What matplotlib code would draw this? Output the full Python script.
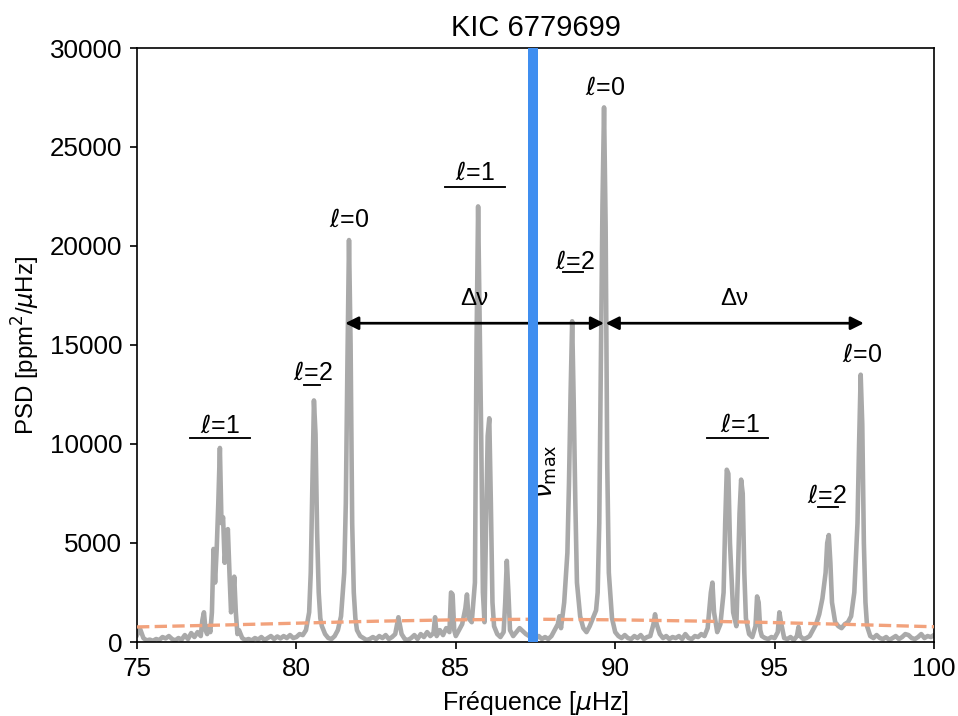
import numpy as np
import matplotlib
matplotlib.use("Agg")
import matplotlib.pyplot as plt

plt.rcParams['font.family'] = ['Liberation Sans', 'DejaVu Sans']

# Spectre (frequence en muHz, PSD en ppm^2/muHz)
freq = [75.0, 75.1, 75.2, 75.3, 75.4, 75.5, 75.6, 75.7, 75.8, 75.9,
        76.0, 76.1, 76.2, 76.3, 76.4, 76.5, 76.6, 76.7, 76.8, 76.9,
        77.0, 77.05, 77.1, 77.15, 77.2, 77.25, 77.3, 77.35, 77.4, 77.45,
        77.5, 77.55, 77.6, 77.65, 77.7, 77.75, 77.8, 77.85, 77.9, 77.95,
        78.0, 78.05, 78.1, 78.15, 78.2, 78.3, 78.4, 78.5, 78.6, 78.7,
        78.8, 78.9, 79.0, 79.1, 79.2, 79.3, 79.4, 79.5, 79.6, 79.7,
        79.8, 79.9, 80.0, 80.1, 80.2, 80.3, 80.4, 80.45, 80.5, 80.55,
        80.6, 80.65, 80.7, 80.75, 80.8, 80.9, 81.0, 81.1, 81.2, 81.3,
        81.4, 81.5, 81.55, 81.6, 81.65, 81.7, 81.75, 81.8, 81.85, 81.9,
        82.0, 82.1, 82.2, 82.3, 82.4, 82.5, 82.6, 82.7, 82.8, 82.9,
        83.0, 83.1, 83.2, 83.3, 83.4, 83.5, 83.6, 83.7, 83.8, 83.9,
        84.0, 84.1, 84.2, 84.3, 84.35, 84.4, 84.5, 84.6, 84.7, 84.8,
        84.85, 84.9, 84.95, 85.0, 85.1, 85.2, 85.3, 85.35, 85.4, 85.5,
        85.6, 85.65, 85.7, 85.75, 85.8, 85.85, 85.9, 85.95, 86.0, 86.05,
        86.1, 86.15, 86.2, 86.3, 86.4, 86.5, 86.55, 86.6, 86.65, 86.7,
        86.8, 86.9, 87.0, 87.1, 87.2, 87.3, 87.4, 87.5, 87.6, 87.7,
        87.8, 87.9, 88.0, 88.1, 88.2, 88.25, 88.3, 88.4, 88.5, 88.55,
        88.6, 88.65, 88.7, 88.75, 88.8, 88.9, 89.0, 89.1, 89.2, 89.3,
        89.4, 89.45, 89.5, 89.55, 89.6, 89.65, 89.7, 89.75, 89.8, 89.9,
        90.0, 90.1, 90.2, 90.3, 90.4, 90.5, 90.6, 90.7, 90.8, 90.9,
        91.0, 91.1, 91.2, 91.25, 91.3, 91.4, 91.5, 91.6, 91.7, 91.8,
        91.9, 92.0, 92.1, 92.2, 92.3, 92.4, 92.5, 92.6, 92.7, 92.8,
        92.9, 93.0, 93.05, 93.1, 93.2, 93.3, 93.4, 93.45, 93.5, 93.55,
        93.6, 93.7, 93.8, 93.85, 93.9, 93.95, 94.0, 94.05, 94.1, 94.2,
        94.3, 94.4, 94.45, 94.5, 94.55, 94.6, 94.7, 94.8, 94.9, 95.0,
        95.1, 95.15, 95.2, 95.3, 95.4, 95.5, 95.6, 95.7, 95.75, 95.8,
        95.9, 96.0, 96.1, 96.2, 96.3, 96.4, 96.5, 96.6, 96.65, 96.7,
        96.75, 96.8, 96.9, 97.0, 97.1, 97.2, 97.3, 97.4, 97.5, 97.6,
        97.65, 97.7, 97.75, 97.8, 97.85, 97.9, 98.0, 98.1, 98.2, 98.3,
        98.4, 98.5, 98.6, 98.7, 98.8, 98.9, 99.0, 99.1, 99.2, 99.3,
        99.4, 99.5, 99.6, 99.7, 99.8, 99.9, 100.0]
psd = [350, 650, 200, 80, 120, 60, 150, 100, 250, 180,
       300, 150, 80, 200, 120, 350, 150, 450, 250, 500,
       300, 1100, 1500, 600, 400, 800, 500, 1500, 4700, 3000,
       4700, 7000, 9800, 6000, 6300, 4000, 5000, 5700, 3500, 1500,
       2000, 3300, 1500, 400, 600, 200, 100, 150, 80, 200,
       120, 250, 100, 200, 300, 150, 280, 180, 300, 200,
       350, 200, 250, 400, 350, 600, 1500, 3500, 8000, 12200,
       10500, 5500, 2500, 1200, 800, 400, 200, 150, 300, 600,
       1300, 3500, 7000, 14000, 20300, 15000, 6000, 2500, 1200, 600,
       300, 200, 100, 150, 250, 150, 300, 200, 350, 150,
       250, 400, 1250, 400, 150, 100, 200, 350, 150, 400,
       250, 500, 300, 450, 1250, 300, 600, 350, 700, 500,
       2500, 2400, 600, 300, 600, 900, 1700, 2400, 1200, 1000,
       3000, 15000, 22000, 16000, 10000, 2500, 1000, 6000, 10400, 11300,
       7000, 2000, 800, 400, 250, 500, 2000, 4100, 2500, 600,
       300, 500, 700, 550, 400, 300, 200, 150, 300, 150,
       250, 150, 300, 600, 900, 1300, 700, 2000, 4500, 8000,
       12500, 16200, 12000, 7000, 3000, 1300, 700, 500, 800, 1200,
       1600, 2500, 6000, 14000, 22000, 27000, 21000, 9000, 3500, 1200,
       500, 300, 200, 350, 200, 150, 300, 200, 350, 150,
       250, 300, 900, 1400, 900, 400, 200, 300, 150, 250,
       200, 300, 150, 400, 200, 150, 300, 250, 400, 300,
       700, 2500, 3000, 1500, 500, 900, 2500, 6000, 8700, 8500,
       5000, 1500, 800, 3500, 6500, 8200, 7500, 3500, 1200, 400,
       250, 800, 2300, 2000, 600, 300, 200, 150, 250, 200,
       500, 1500, 1000, 200, 150, 250, 100, 300, 760, 300,
       150, 200, 300, 600, 900, 1400, 2200, 3500, 5000, 5400,
       4000, 2000, 1000, 800, 700, 900, 1000, 1300, 2500, 6000,
       10000, 13500, 11000, 5000, 2000, 800, 300, 200, 350, 200,
       150, 250, 100, 200, 300, 150, 250, 400, 350, 200,
       150, 250, 400, 200, 300, 250, 350]

# fond (ligne pointillee)
bg_freq = [75, 77.5, 80, 82.5, 85, 87.5, 90, 92.5, 95, 97.5, 100]
bg_psd = [760, 850, 950, 1050, 1120, 1150, 1120, 1060, 980, 880, 770]

numax = 87.42

# etiquettes des modes: (texte, x, y)
mode_labels = [(r"$\ell$=1", 77.6, 10900), (r"$\ell$=2", 80.52, 13600),
               (r"$\ell$=0", 81.65, 21300), (r"$\ell$=1", 85.6, 23700),
               (r"$\ell$=2", 88.74, 19200), (r"$\ell$=0", 89.68, 28000),
               (r"$\ell$=1", 93.9, 10960), (r"$\ell$=2", 96.64, 7400),
               (r"$\ell$=0", 97.74, 14500)]
# traits sous les etiquettes: (x0, x1, y)
underlines = [(76.66, 78.54, 10300), (80.24, 80.74, 13000),
              (84.66, 86.54, 23000), (88.36, 88.99, 18700),
              (92.88, 94.79, 10300), (96.36, 96.99, 6800)]
# fleches delta nu
dnu_arrows = [(81.53, 89.65), (89.7, 97.8)]
dnu_y = 16100

fig = plt.figure(figsize=(958/150, 716/150), dpi=150)
ax = fig.add_axes([137/958, 1-642/716, (934-137)/958, (642-48)/716])

ax.plot(freq, psd, color='darkgray', lw=2.2, zorder=2)
ax.plot(bg_freq, bg_psd, color='#f2a27c', lw=1.6, ls='--', zorder=3)
ax.axvline(numax, color='#3f8ef0', lw=4.8, zorder=4)
ax.text(numax + 0.45, 8600, r"$\nu_{\rm max}$", rotation=90, ha='center', va='center', fontsize=12)

for txt, x, y in mode_labels:
    ax.text(x, y, txt, ha='center', va='center', fontsize=12)
for x0, x1, y in underlines:
    ax.plot([x0, x1], [y, y], color='black', lw=0.9)

for x0, x1 in dnu_arrows:
    ax.annotate('', xy=(x1, dnu_y), xytext=(x0, dnu_y),
                arrowprops=dict(arrowstyle='<|-|>', color='black', lw=1.3,
                                mutation_scale=13, shrinkA=0, shrinkB=0))
    ax.text((x0 + x1) / 2, 17300, "Δν", ha='center', va='center', fontsize=11.5)

ax.set_xlim(75, 100)
ax.set_ylim(0, 30000)
ax.set_xticks([75, 80, 85, 90, 95, 100])
ax.set_yticks(np.arange(0, 30001, 5000))
ax.tick_params(labelsize=12.5)
ax.set_xlabel(r"Fréquence [$\mu$Hz]", fontsize=12)
ax.set_ylabel(r"PSD [ppm$^2$/$\mu$Hz]", fontsize=11.5)
ax.set_title("KIC 6779699", fontsize=14)

fig.savefig("out.png", dpi=150)
